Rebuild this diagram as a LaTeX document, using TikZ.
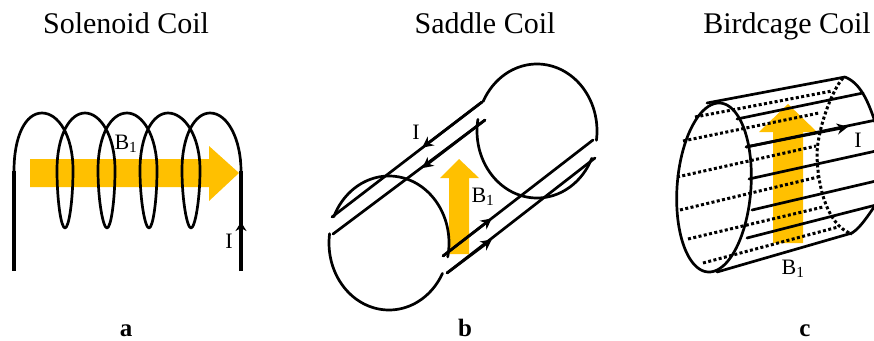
\documentclass[tikz,border=0pt]{standalone}
\usepackage{fontspec}
\setmainfont{Liberation Serif}
\usetikzlibrary{arrows.meta}
\definecolor{amber}{HTML}{FFC000}
\tikzset{
  wire/.style={line width=2.7pt,line cap=round,line join=round,black},
  stem/.style={line width=3.2pt,black},
  dots/.style={line width=3pt,black,dash pattern=on 3pt off 2.4pt},
  flow/.style={amber,draw=none},
  tiparrow/.style={-{Stealth[length=11pt,width=11pt]},line width=2.7pt,black,shorten >=-1pt},
  title/.style={font=\fontsize{30}{32}\selectfont,inner sep=0pt,anchor=base},
  panel/.style={font=\fontsize{25}{28}\selectfont\bfseries,inner sep=0pt,anchor=base},
  lab/.style={font=\fontsize{22}{24}\selectfont,inner sep=0pt,anchor=base}
}
\begin{document}
\begin{tikzpicture}[x=1pt,y=-1pt]
\useasboundingbox (0,0) rectangle (874,340);
\clip (0,0) rectangle (874,340);
% titles
\node[title] (t1) at (126,33) {Solenoid Coil};
\node[title] (t2) at (485,33) {Saddle Coil};
\node[title] (t3) at (787,33) {Birdcage Coil};
\node[panel] (pa) at (126,336) {a};
\node[panel] (pb) at (465,336) {b};
\node[panel] (pc) at (805,336) {c};
% --- Solenoid
\fill[flow] (30,159) -- (209,159) -- (209,146) -- (239,173) -- (209,201) -- (209,187) -- (30,187) -- cycle;
\draw[wire] (14,171) .. controls (14,135) and (26,113) .. (42,113)
  .. controls (58,113) and (73,135) .. (73,170)
  .. controls (73,200) and (69,228) .. (65,228)
  .. controls (61,228) and (57,200) .. (57,170)
  .. controls (57,135) and (70,113) .. (85,113)
  .. controls (100,113) and (115,135) .. (115,170)
  .. controls (115,200) and (111,228) .. (107,228)
  .. controls (103,228) and (98,200) .. (98,170)
  .. controls (98,135) and (111,113) .. (127,113)
  .. controls (142,113) and (157,135) .. (157,170)
  .. controls (157,200) and (153,228) .. (149,228)
  .. controls (145,228) and (140,200) .. (140,170)
  .. controls (140,135) and (153,113) .. (168,113)
  .. controls (184,113) and (200,135) .. (200,170)
  .. controls (200,200) and (195,228) .. (191,228)
  .. controls (187,228) and (182,200) .. (182,170)
  .. controls (182,135) and (195,113) .. (210,113)
  .. controls (228,113) and (241,140) .. (241,171);
\coordinate (sa) at (14,171); \coordinate (sb) at (14,271);
\coordinate (sc) at (241,171); \coordinate (sd) at (241,271); \coordinate (se) at (241,222);
\draw[stem] (sa) -- (sb);
\draw[stem] (sc) -- (sd);
\draw[-{Stealth[length=9pt,width=11pt]},stem] (sd) -- (se);
\node[lab] (b1a) at (126,149) {B\textsubscript{1}};
\node[lab] (ia) at (229,248) {I};
% --- Saddle
\fill[flow] (449,254) -- (449,178) -- (440,178) -- (459,159) -- (479,178) -- (469,178) -- (469,254) -- cycle;
\draw[wire] plot[domain=203:372,samples=70] ({389+60*cos(\x)},{243+67*sin(\x)});
\draw[wire] plot[domain=188:27,samples=70] ({389+60*cos(\x)},{243+67*sin(\x)});
\draw[wire] plot[domain=206:368,samples=70] ({537+60*cos(\x)},{131+67*sin(\x)});
\draw[wire] plot[domain=190:24,samples=70] ({537+60*cos(\x)},{131+67*sin(\x)});
\coordinate (l1a) at (482,102); \coordinate (l1b) at (332,217);
\coordinate (l2a) at (485,120); \coordinate (l2b) at (333,234);
\coordinate (l3a) at (593,140); \coordinate (l3b) at (443,256);
\coordinate (l4a) at (595,158); \coordinate (l4b) at (447,273);
\draw[wire] (l1a) -- (l1b);
\draw[wire] (l2a) -- (l2b);
\draw[wire] (l3a) -- (l3b);
\draw[wire] (l4a) -- (l4b);
\draw[tiparrow] (l1a) -- (423,147);
\draw[tiparrow] (l2a) -- (423,167.5);
\draw[tiparrow] (l3b) -- (491,219);
\draw[tiparrow] (l4b) -- (491,240);
\node[lab] (b1b) at (483,202) {B\textsubscript{1}};
\node[lab] (ib) at (416,139) {I};
% --- Birdcage
\fill[flow] (773,243) -- (773,132) -- (759,132) -- (788,104) -- (817,132) -- (803,132) -- (803,243) -- cycle;
\draw[wire] plot[domain=0:360,samples=120] ({714+37*cos(\x)-5*sin(\x)},{187.5+84.5*sin(\x)});
\coordinate (e1) at (707,103); \coordinate (e2) at (845,77);
\coordinate (e3) at (717,272); \coordinate (e4) at (852,233);
\draw[wire] (e1) -- (e2);
\draw[wire] (e3) -- (e4);
\draw[wire] (e2) .. controls (860,83) and (868,100) .. (876,125);
\draw[wire] (e4) .. controls (860,228) and (868,216) .. (876,204);
% solid bars
\coordinate (w1a) at (737,119); \coordinate (w1b) at (863,93);
\coordinate (w2a) at (746,147); \coordinate (w2b) at (876,120);
\coordinate (w3a) at (749,179); \coordinate (w3b) at (876,151);
\coordinate (w4a) at (752,210); \coordinate (w4b) at (876,181);
\coordinate (w5a) at (747,238); \coordinate (w5b) at (876,205);
\draw[wire] (w1a) -- (w1b);
\draw[wire] (w2a) -- (w2b);
\draw[wire] (w3a) -- (w3b);
\draw[wire] (w4a) -- (w4b);
\draw[wire] (w5a) -- (w5b);
\draw[tiparrow] (w2a) -- (847,127);
% dotted bars
\draw[dots] (695,117) -- (832,91);
\draw[dots] (683,141) -- (819,113);
\draw[dots] (677,177) -- (816,146);
\draw[dots] (680,210) -- (818,177);
\draw[dots] (688,239) -- (823,207);
\draw[dots] (703,263) -- (838,227);
\draw[dots] (843,78) .. controls (832,90) and (818,128) .. (817,153)
  .. controls (817,180) and (825,225) .. (852,234);
\node[lab] (b1c) at (793,274) {B\textsubscript{1}};
\node[lab] (ic) at (858,147) {I};
\end{tikzpicture}
\end{document}
